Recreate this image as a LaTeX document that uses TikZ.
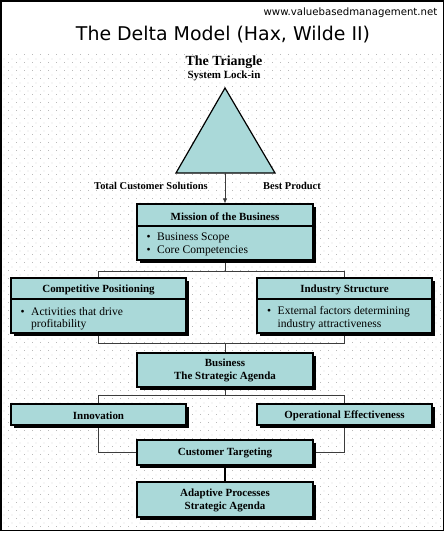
\documentclass[tikz,border=0pt]{standalone}
\usepackage{fontspec}
\setmainfont{Liberation Serif}
\newfontfamily\vfont{DejaVu Sans}
\usetikzlibrary{shadows,arrows.meta,backgrounds,patterns}
\definecolor{boxfill}{RGB}{170,217,217}
\definecolor{dotc}{RGB}{185,185,185}
\definecolor{connc}{RGB}{60,60,60}
\pgfdeclarepatternformonly{bgdots}{\pgfpointorigin}{\pgfqpoint{8bp}{8bp}}{\pgfqpoint{8bp}{8bp}}{%
  \pgfpathrectangle{\pgfqpoint{0bp}{0bp}}{\pgfqpoint{1bp}{1bp}}%
  \pgfpathrectangle{\pgfqpoint{4bp}{4bp}}{\pgfqpoint{1bp}{1bp}}%
  \pgfusepath{fill}}
\tikzset{
  box/.style={draw=black, line width=1.1bp, fill=boxfill, inner sep=0pt,
    drop shadow={shadow xshift=3bp, shadow yshift=-3bp, fill=black, opacity=1}},
  hdr/.style={font=\fontsize{11}{12.5}\selectfont\bfseries, inner sep=0pt, align=center},
  body/.style={font=\fontsize{11.6}{12.5}\selectfont, inner sep=0pt, align=left, anchor=west},
  lbl/.style={font=\fontsize{10.5}{12}\selectfont\bfseries, inner sep=0pt},
  conn/.style={draw=connc, line width=0.8bp},
}
\begin{document}
\begin{tikzpicture}[x=1bp,y=-1bp]
\useasboundingbox (0,0) rectangle (448,534);
% header texts
\node[font=\vfont\fontsize{10.2}{12}\selectfont, anchor=east, inner sep=0pt] (url) at (437.5,13) {www.valuebasedmanagement.net};
\node[font=\vfont\fontsize{19}{22}\selectfont, inner sep=0pt] (title) at (223,35) {The Delta Model (Hax, Wilde II)};
% triangle
\node[font=\fontsize{14}{16}\selectfont\bfseries, inner sep=0pt] (tt) at (224,62) {The Triangle};
\node[font=\fontsize{11}{13}\selectfont\bfseries, inner sep=0pt] (tl) at (224,76) {System Lock-in};
\draw[line width=1.2bp, fill=boxfill] (225,88) -- (275,173) -- (176,173) -- cycle;
\coordinate (tribase) at (225,173);
\node[lbl] (tcs) at (151,186) {Total Customer Solutions};
\node[lbl] (bp) at (292,186) {Best Product};
% boxes
\node[box, minimum width=176bp, minimum height=56bp] (mission) at (225,232) {};
\node[box, minimum width=175bp, minimum height=55bp] (comp) at (98.5,305.5) {};
\node[box, minimum width=175bp, minimum height=55bp] (ind) at (344.5,305.5) {};
\node[box, minimum width=176bp, minimum height=34bp] (bus) at (225,370) {};
\node[box, minimum width=175bp, minimum height=21bp] (inno) at (98.5,414.5) {};
\node[box, minimum width=175bp, minimum height=21bp] (opef) at (344.5,414.5) {};
\node[box, minimum width=176bp, minimum height=25bp] (ct) at (225,452.5) {};
\node[box, minimum width=176bp, minimum height=35bp] (adapt) at (225,499.5) {};
% dividers
\draw[line width=1.1bp] (mission.west |- 0,226) -- (mission.east |- 0,226);
\draw[line width=1.1bp] (comp.west |- 0,299) -- (comp.east |- 0,299);
\draw[line width=1.1bp] (ind.west |- 0,299) -- (ind.east |- 0,299);
% box texts
\node[hdr] (missionh) at (225,216.5) {Mission of the Business};
\node[body] (m1) at (146.5,238) {\makebox[10.5bp][l]{\textbullet}Business Scope};
\node[body] (m2) at (146.5,251) {\makebox[10.5bp][l]{\textbullet}Core Competencies};
\node[hdr] (comph) at (98.5,289.5) {Competitive Positioning};
\node[body] (c1) at (20.5,312) {\makebox[10.5bp][l]{\textbullet}Activities that drive};
\node[body] (c2) at (31,325) {profitability};
\node[hdr] (indh) at (344.5,289.5) {Industry Structure};
\node[body] (i1) at (267,312) {\makebox[10.5bp][l]{\textbullet}External factors determining};
\node[body] (i2) at (277.5,325) {industry attractiveness};
\node[hdr] (bust) at (225,370.5) {Business\\The Strategic Agenda};
\node[hdr] (innot) at (98.5,416) {Innovation};
\node[hdr] (opeft) at (344.5,416) {Operational Effectiveness};
\node[hdr] (ctt) at (225,452.5) {Customer Targeting};
\node[hdr] (adaptt) at (225,500.5) {Adaptive Processes\\Strategic Agenda};
\begin{scope}[on background layer]
% dotted background
\fill[pattern=bgdots, pattern color=dotc] (1.5,54) rectangle (443,530);
% connectors
\draw[conn] (mission.south) -- ++(0,11) -| (comp.north);
\draw[conn] (mission.south) -- ++(0,11) -| (ind.north);
\draw[conn] (comp.south) -- ++(0,10) -| (bus.north);
\draw[conn] (ind.south) -- ++(0,10) -| (bus.north);
\draw[conn] (bus.south) -- ++(0,8) -| (inno.north);
\draw[conn] (bus.south) -- ++(0,8) -| (opef.north);
\draw[conn] (inno.south) |- (ct.west);
\draw[conn] (opef.south) |- (ct.east);
\draw[draw=black, line width=1.4bp] (ct.south) -- (adapt.north);
\end{scope}
\draw[conn, -{Latex[length=5bp,width=4.5bp]}] (tribase) -- (mission.north);
% frame
\draw[line width=1.6bp] (0.8,0.8) rectangle (443.4,530.6);
\end{tikzpicture}
\end{document}
